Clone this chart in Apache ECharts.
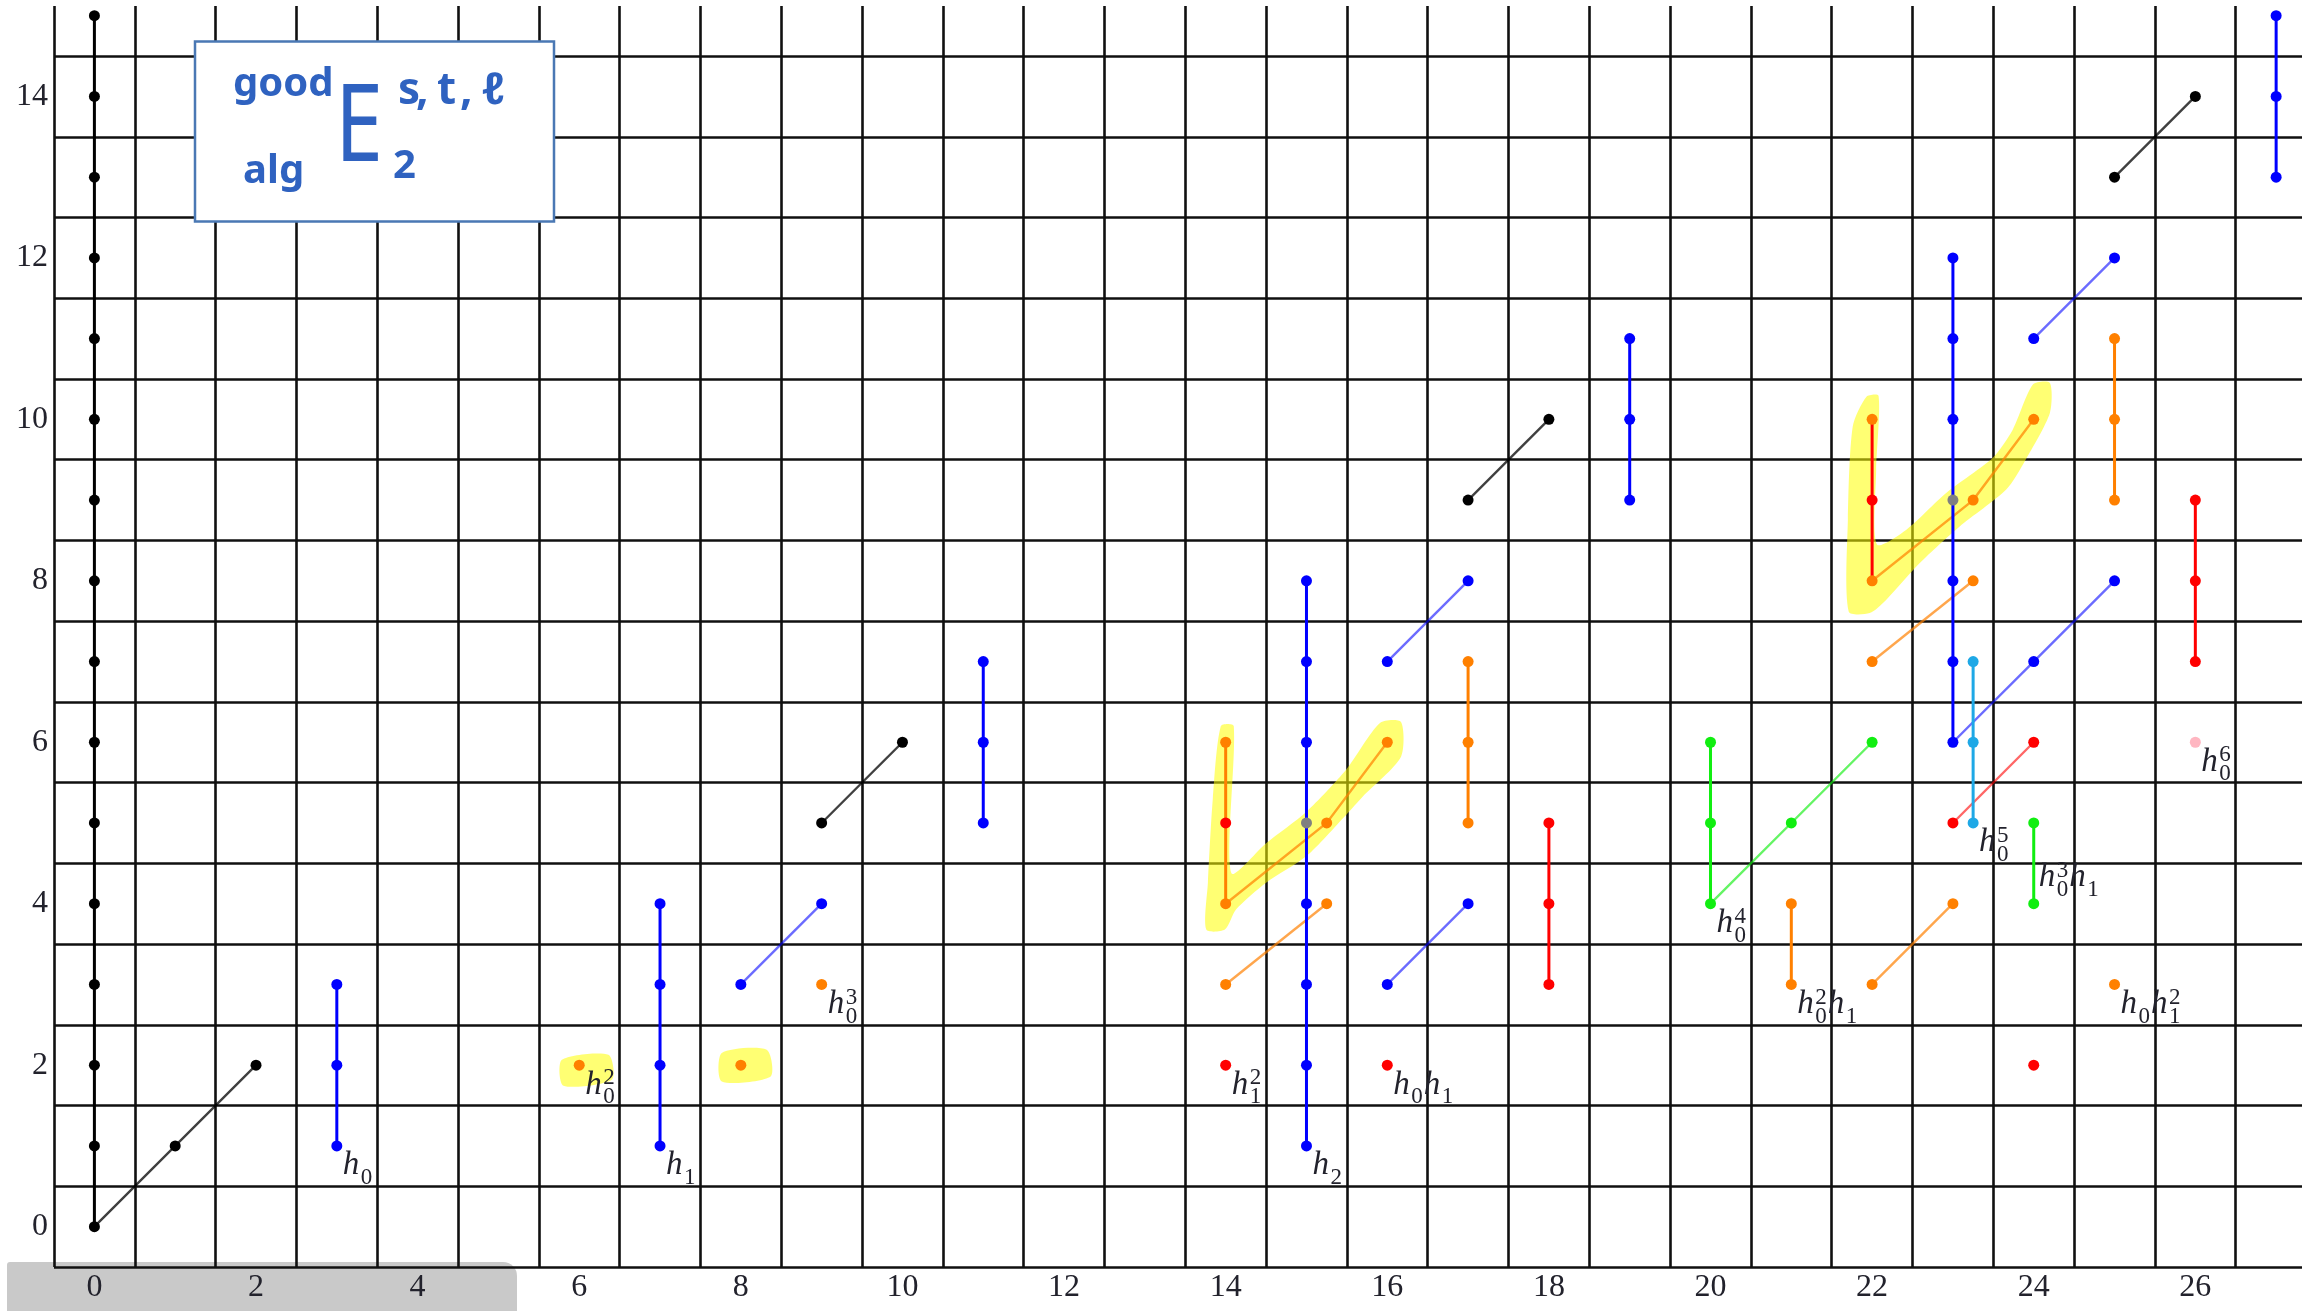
<!DOCTYPE html>
<html>
<head>
<meta charset="utf-8">
<script src="https://cdn.jsdelivr.net/npm/echarts@6/dist/echarts.min.js"></script>
<style>
  html, body { margin: 0; padding: 0; background: #ffffff; }
  #chart { width: 2305px; height: 1311px; }
</style>
</head>
<body>
<div id="chart"></div>
<script>
// Axis tick labels
const xTickLabels = [0, 2, 4, 6, 8, 10, 12, 14, 16, 18, 20, 22, 24, 26];
const yTickLabels = [0, 2, 4, 6, 8, 10, 12, 14];

// Classes, grouped by colour: [stem, filtration]
const blackDots = [[0,0],[0,1],[0,2],[0,3],[0,4],[0,5],[0,6],[0,7],[0,8],[0,9],[0,10],[0,11],[0,12],[0,13],[0,14],[0,15],
  [1,1],[2,2],[9,5],[10,6],[17,9],[18,10],[25,13],[26,14]];
const blueDots = [[3,1],[3,2],[3,3],[7,1],[7,2],[7,3],[7,4],[8,3],[9,4],[11,5],[11,6],[11,7],
  [15,1],[15,2],[15,3],[15,4],[15,6],[15,7],[15,8],[16,3],[17,4],[16,7],[17,8],[19,9],[19,10],[19,11],
  [23,6],[23,7],[23,8],[23,10],[23,11],[23,12],[24,7],[25,8],[24,11],[25,12],[27,13],[27,14],[27,15]];
const orangeDots = [[6,2],[8,2],[9,3],[14,3],[15.25,4],[14,4],[14,6],[15.25,5],[16,6],[17,5],[17,6],[17,7],
  [21,3],[21,4],[22,3],[23,4],[22,7],[23.25,8],[22,8],[22,10],[23.25,9],[24,10],[25,9],[25,10],[25,11],[25,3]];
const redDots = [[14,2],[16,2],[14,5],[18,3],[18,4],[18,5],[22,9],[23,5],[24,6],[24,2],[26,7],[26,8],[26,9]];
const greenDots = [[20,4],[20,5],[20,6],[21,5],[22,6],[24,4],[24,5]];
const cyanDots = [[23.25,5],[23.25,6],[23.25,7]];
const grayDots = [[15,5],[23,9]];
const pinkDots = [[26,6]];

// h0-towers (vertical) by colour
const towersBlack = [[[0,0],[0,15]]];
const towersBlue = [[[3,1],[3,3]], [[7,1],[7,4]], [[11,5],[11,7]], [[15,1],[15,8]], [[19,9],[19,11]], [[23,6],[23,12]], [[27,13],[27,15]]];
const towersOrange = [[[14,4],[14,6]], [[17,5],[17,7]], [[21,3],[21,4]], [[25,9],[25,11]]];
const towersRed = [[[18,3],[18,5]], [[22,8],[22,10]], [[26,7],[26,9]]];
const towersGreen = [[[20,4],[20,6]], [[24,4],[24,5]]];
const towersCyan = [[[23.25,5],[23.25,7]]];

// h1-chains (diagonal) by colour
const chainsBlack = [[[0,0],[1,1],[2,2]], [[9,5],[10,6]], [[17,9],[18,10]], [[25,13],[26,14]]];
const chainsBlue = [[[8,3],[9,4]], [[16,3],[17,4]], [[16,7],[17,8]], [[23,6],[24,7],[25,8]], [[24,11],[25,12]]];
const chainsOrange = [[[14,3],[15.25,4]], [[14,4],[15.25,5],[16,6]], [[22,3],[23,4]], [[22,7],[23.25,8]], [[22,8],[23.25,9],[24,10]]];
const chainsRed = [[[23,5],[24,6]]];
const chainsGreen = [[[20,4],[21,5],[22,6]]];

// Monomial names attached to classes
const monomialLabels = [[3,1,'h0'],[7,1,'h1'],[15,1,'h2'],[6,2,'h0^2'],[9,3,'h0^3'],[14,2,'h1^2'],[16,2,'h0 h1'],
  [20,4,'h0^4'],[21,3,'h0^2 h1'],[23.25,5,'h0^5'],[24,4,'h0^3 h1'],[25,3,'h0 h1^2'],[26,6,'h0^6']];

// Highlighter strokes, outlined in (stem, filtration) units
const markerV1 = [[13.94,6.20],[14.10,6.20],[14.07,4.38],[14.50,4.75],[15.00,5.14],[15.49,5.66],[15.91,6.24],[16.17,6.25],
  [16.17,5.82],[15.70,5.33],[15.49,5.10],[15.00,4.59],[14.50,4.26],[14.13,3.93],[13.99,3.68],[13.76,3.68],[13.78,4.26],[13.84,5.29]];
const markerV2 = [[21.93,10.28],[22.08,10.29],[22.05,9.37],[22.06,8.45],[22.42,8.63],[22.92,9.09],[23.49,9.52],[23.74,9.87],
  [23.99,10.43],[24.20,10.45],[24.20,10.08],[23.90,9.50],[23.66,9.13],[23.08,8.67],[22.59,8.22],[22.17,7.76],[21.97,7.60],
  [21.71,7.62],[21.70,8.76],[21.76,9.91]];
const markerH02 = [[5.785,2.068],[6.362,2.130],[6.404,1.820],[5.805,1.746]];
const markerB8 = [[7.764,2.151],[8.320,2.192],[8.369,1.861],[7.764,1.799]];
const markers = [markerV1, markerV2, markerH02, markerB8];

// ---- styling ----
const GRID_COLOR = '#101010';
const LABEL_COLOR = '#22222c';
const INK = '#2f62c0';
const COLORS = {
  black: '#000000', blue: '#0000ff', orange: '#ff8000', red: '#ff0000',
  green: '#11ee11', cyan: '#1ea8e6', gray: '#808080', pink: '#ffb6c1'
};
const H_SIZE = 33, S_SIZE = 23;
const H_FONT = 'italic ' + H_SIZE + 'px "Liberation Serif"';
const S_FONT = S_SIZE + 'px "Liberation Serif"';
const labelNudge = { 'h0^3 h1': [5, -15] };

const measureCtx = document.createElement('canvas').getContext('2d');
function measure(font, s) { measureCtx.font = font; return measureCtx.measureText(s).width; }
function glyph(s, x, baseline, font, size) {
  return { type: 'text', style: { text: s, x: x, y: baseline - 0.34 * size, font: font,
    fill: LABEL_COLOR, align: 'left', verticalAlign: 'middle' } };
}

function towerSeries(list, color) {
  return { type: 'lines', coordinateSystem: 'cartesian2d', polyline: true, z: 3, silent: true,
    lineStyle: { color: color, width: 3, opacity: 1 },
    data: list.map(c => ({ coords: c })) };
}
function chainSeries(list, color, opacity) {
  return { type: 'lines', coordinateSystem: 'cartesian2d', polyline: true, z: 2, silent: true,
    lineStyle: { color: color, width: 2.4, opacity: opacity },
    data: list.map(c => ({ coords: c })) };
}
function dotSeries(list, color) {
  return { type: 'scatter', data: list, symbol: 'circle', symbolSize: 11, z: 4, silent: true,
    itemStyle: { color: color, opacity: 1 } };
}

const chart = echarts.init(document.getElementById('chart'), null, { renderer: 'canvas' });

const axisLabelStyle = { fontFamily: '"Liberation Serif", serif', fontSize: 32, color: LABEL_COLOR };

chart.setOption({
  animation: false,
  backgroundColor: '#ffffff',
  grid: { left: 54, top: 6, width: 2249, height: 1261, containLabel: false },
  xAxis: {
    type: 'value', min: -0.5, max: 27.32, interval: 0.5,
    axisLine: { show: false, onZero: false }, axisTick: { show: false },
    splitLine: { show: true, showMinLine: true, showMaxLine: false,
      lineStyle: { color: [GRID_COLOR, 'rgba(0,0,0,0)'], width: 2.6 } },
    axisLabel: Object.assign({ margin: 5, formatter: v => xTickLabels.includes(v) ? String(v) : '' }, axisLabelStyle)
  },
  yAxis: {
    type: 'value', min: -0.5, max: 15.12, interval: 0.5,
    axisLine: { show: false, onZero: false }, axisTick: { show: false },
    splitLine: { show: true, showMinLine: true, showMaxLine: false,
      lineStyle: { color: [GRID_COLOR, 'rgba(0,0,0,0)'], width: 2.6 } },
    axisLabel: Object.assign({ margin: 6, formatter: v => yTickLabels.includes(v) ? String(v) : '' }, axisLabelStyle)
  },
  graphic: [
    { type: 'rect', z: -1, shape: { x: 7, y: 1262, width: 510, height: 60, r: [3, 14, 0, 0] },
      style: { fill: '#c9c9c9' } },
    { type: 'rect', z: 100, shape: { x: 195, y: 41.5, width: 359, height: 180 },
      style: { fill: '#ffffff', stroke: '#4a78b4', lineWidth: 2.5 } },
    { type: 'text', z: 101, style: { text: 'good', x: 233, y: 84.5, font: 'bold 40px "Noto Sans"', fill: INK, align: 'left', verticalAlign: 'middle' } },
    { type: 'text', z: 101, style: { text: 'alg', x: 243, y: 171.5, font: 'bold 40px "Noto Sans"', fill: INK, align: 'left', verticalAlign: 'middle' } },
    { type: 'text', z: 101, x: 335, y: 130, scaleX: 0.8,
      style: { text: 'E', x: 0, y: 0, font: '108px "Noto Sans"', fill: INK, align: 'left', verticalAlign: 'middle' } },
    { type: 'text', z: 101, style: { text: 's', x: 398, y: 91, font: 'bold 44px "Noto Sans"', fill: INK, align: 'left', verticalAlign: 'middle' } },
    { type: 'text', z: 101, style: { text: ',', x: 416, y: 91, font: 'bold 44px "Noto Sans"', fill: INK, align: 'left', verticalAlign: 'middle' } },
    { type: 'text', z: 101, style: { text: 't', x: 437, y: 91, font: 'bold 44px "Noto Sans"', fill: INK, align: 'left', verticalAlign: 'middle' } },
    { type: 'text', z: 101, style: { text: ',', x: 460, y: 91, font: 'bold 44px "Noto Sans"', fill: INK, align: 'left', verticalAlign: 'middle' } },
    { type: 'text', z: 101, style: { text: 'ℓ', x: 482, y: 91, font: 'bold 44px "Noto Sans"', fill: INK, align: 'left', verticalAlign: 'middle' } },
    { type: 'text', z: 101, style: { text: '2', x: 393, y: 166.5, font: 'bold 40px "Noto Sans"', fill: INK, align: 'left', verticalAlign: 'middle' } }
  ],
  series: [
    // highlighter strokes
    { type: 'custom', coordinateSystem: 'cartesian2d', z: 1, silent: true, clip: false,
      data: markers.map(m => m[0]),
      renderItem: (params, api) => ({
        type: 'polygon',
        shape: { points: markers[params.dataIndex].map(pt => api.coord(pt)), smooth: 0.25 },
        style: { fill: 'rgba(255,255,0,0.55)' }
      }) },
    chainSeries(chainsBlack, COLORS.black, 0.75),
    chainSeries(chainsBlue, COLORS.blue, 0.58),
    chainSeries(chainsOrange, COLORS.orange, 0.7),
    chainSeries(chainsRed, COLORS.red, 0.6),
    chainSeries(chainsGreen, COLORS.green, 0.65),
    towerSeries(towersBlack, COLORS.black),
    towerSeries(towersBlue, COLORS.blue),
    towerSeries(towersOrange, COLORS.orange),
    towerSeries(towersRed, COLORS.red),
    towerSeries(towersGreen, COLORS.green),
    towerSeries(towersCyan, COLORS.cyan),
    dotSeries(blackDots, COLORS.black),
    dotSeries(blueDots, COLORS.blue),
    dotSeries(orangeDots, COLORS.orange),
    dotSeries(redDots, COLORS.red),
    dotSeries(greenDots, COLORS.green),
    dotSeries(cyanDots, COLORS.cyan),
    dotSeries(grayDots, COLORS.gray),
    dotSeries(pinkDots, COLORS.pink),
    // monomial names
    { type: 'custom', coordinateSystem: 'cartesian2d', z: 5, silent: true, clip: false,
      data: monomialLabels.map(l => [l[0], l[1]]),
      renderItem: (params, api) => {
        const item = monomialLabels[params.dataIndex];
        const p = api.coord([item[0], item[1]]);
        const nudge = labelNudge[item[2]] || [6, 31];
        let x = p[0] + nudge[0];
        const base = p[1] + nudge[1];
        const children = [];
        item[2].split(' ').forEach(factor => {
          const m = /^h(\d)(?:\^(\d+))?$/.exec(factor);
          children.push(glyph('h', x, base, H_FONT, H_SIZE));
          x += measure(H_FONT, 'h') + 1.5;
          children.push(glyph(m[1], x, base + 9, S_FONT, S_SIZE));
          let w = measure(S_FONT, m[1]);
          if (m[2]) {
            children.push(glyph(m[2], x, base - 10, S_FONT, S_SIZE));
            w = Math.max(w, measure(S_FONT, m[2]));
          }
          x += w + 1;
        });
        return { type: 'group', children: children };
      } }
  ]
});
</script>
</body>
</html>
